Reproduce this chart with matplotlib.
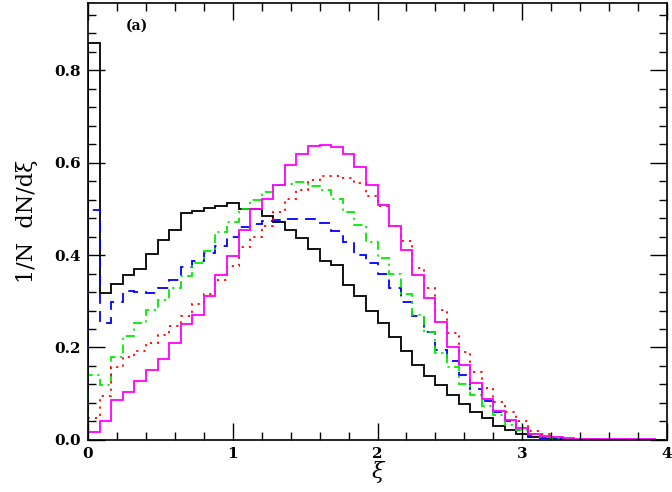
import numpy as np
import matplotlib
matplotlib.use("Agg")
import matplotlib.pyplot as plt
from matplotlib.ticker import MultipleLocator

plt.rcParams['font.family'] = ['DejaVu Serif']

# bin width 0.08 on 0..4 (50 bins)
edges = np.arange(51) * 0.08

black = [0.859, 0.317, 0.337, 0.357, 0.369, 0.402, 0.433, 0.454, 0.490, 0.495,
         0.501, 0.507, 0.513, 0.500, 0.499, 0.485, 0.471, 0.455, 0.436, 0.413,
         0.386, 0.378, 0.336, 0.312, 0.278, 0.252, 0.223, 0.193, 0.163, 0.138,
         0.118, 0.098, 0.078, 0.061, 0.047, 0.030, 0.022, 0.013, 0.007, 0.004,
         0.002, 0.001, 0.0005, 0.0003, 0.0002, 0.0, 0.0, 0.0, 0.0, 0.0]
blue = [0.497, 0.254, 0.298, 0.323, 0.321, 0.317, 0.328, 0.346, 0.373, 0.386,
        0.405, 0.420, 0.438, 0.461, 0.467, 0.473, 0.476, 0.477, 0.477, 0.477,
        0.469, 0.452, 0.429, 0.400, 0.382, 0.358, 0.328, 0.298, 0.268, 0.233,
        0.195, 0.170, 0.140, 0.110, 0.085, 0.061, 0.041, 0.022, 0.009, 0.004,
        0.002, 0.001, 0.0008, 0.0005, 0.0003, 0.0002, 0.0001, 0.0, 0.0, 0.0]
green = [0.140, 0.119, 0.180, 0.225, 0.254, 0.282, 0.303, 0.328, 0.355, 0.382,
         0.408, 0.449, 0.472, 0.500, 0.520, 0.537, 0.552, 0.554, 0.558, 0.549,
         0.541, 0.521, 0.494, 0.465, 0.428, 0.394, 0.358, 0.316, 0.270, 0.233,
         0.189, 0.157, 0.122, 0.097, 0.074, 0.054, 0.032, 0.022, 0.012, 0.006,
         0.003, 0.002, 0.001, 0.0008, 0.0005, 0.0003, 0.0002, 0.0001, 0.0, 0.0]
red = [0.048, 0.095, 0.158, 0.179, 0.193, 0.210, 0.228, 0.247, 0.269, 0.294,
       0.316, 0.347, 0.377, 0.418, 0.438, 0.462, 0.493, 0.521, 0.540, 0.563,
       0.571, 0.571, 0.567, 0.556, 0.528, 0.506, 0.463, 0.430, 0.371, 0.328,
       0.281, 0.231, 0.191, 0.148, 0.112, 0.083, 0.061, 0.040, 0.020, 0.012,
       0.006, 0.003, 0.002, 0.0015, 0.001, 0.0008, 0.0005, 0.0003, 0.0002, 0.0001]
magenta = [0.018, 0.042, 0.0865, 0.103, 0.128, 0.151, 0.175, 0.209, 0.250, 0.271,
           0.311, 0.357, 0.397, 0.454, 0.499, 0.522, 0.552, 0.594, 0.618, 0.636,
           0.638, 0.634, 0.618, 0.591, 0.551, 0.508, 0.463, 0.411, 0.357, 0.306,
           0.256, 0.200, 0.163, 0.1225, 0.089, 0.062, 0.043, 0.025, 0.013, 0.0086,
           0.0058, 0.0036, 0.0025, 0.002, 0.002, 0.0018, 0.0015, 0.0015, 0.0012, 0.001]

fig = plt.figure(figsize=(6.72, 4.92), dpi=100)
ax = fig.add_axes([0.131, 0.1057, 0.8616, 0.8883])

lw = 1.3
ax.stairs(black, edges, color='black', lw=lw)
ax.stairs(blue, edges, color='#0000ff', lw=lw, linestyle=(0, (6, 4)))
ax.stairs(green, edges, color='#00ee00', lw=lw, linestyle=(0, (5, 2.5, 1.2, 2.5)))
ax.stairs(red, edges, color='#ff0000', lw=lw, linestyle=(0, (1.2, 2.8)))
ax.stairs(magenta, edges, color='#ff00ff', lw=lw)

ax.set_xlim(0, 4)
ax.set_ylim(0, 0.945)
ax.xaxis.set_minor_locator(MultipleLocator(0.2))
ax.yaxis.set_minor_locator(MultipleLocator(0.04))
ax.set_xticks([0, 1, 2, 3, 4])
ax.set_xticklabels(['0', '1', '2', '3', '4'])
ax.set_yticks([0.0, 0.2, 0.4, 0.6, 0.8])
ax.set_yticklabels(['0.0', '0.2', '0.4', '0.6', '0.8'])
ax.tick_params(which='both', direction='in', top=True, right=True, width=1.0)
ax.tick_params(which='major', length=12, labelsize=11, pad=5)
ax.tick_params(which='minor', length=5.5)
for lab in ax.get_xticklabels() + ax.get_yticklabels():
    lab.set_fontweight('bold')
for s in ax.spines.values():
    s.set_linewidth(1.2)

ax.set_xlabel('ξ', fontsize=16, labelpad=0, style='italic')
ax.set_ylabel('1/N  dN/dξ', fontsize=16, labelpad=12)
ax.text(0.065, 0.965, '(a)', transform=ax.transAxes, fontsize=10,
        fontweight='bold', va='top', ha='left')

fig.savefig('out.png', dpi=100)
